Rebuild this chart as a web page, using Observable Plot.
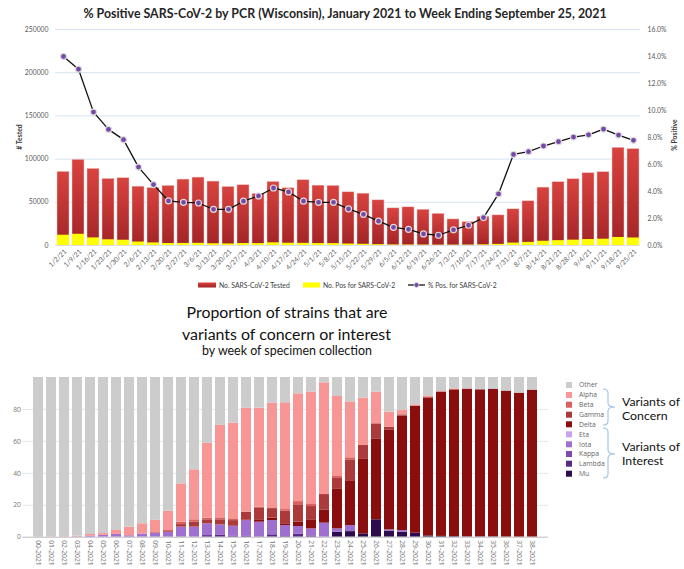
<!DOCTYPE html>
<html><head><meta charset="utf-8">
<script src="https://cdn.jsdelivr.net/npm/d3@7"></script>
<script src="https://cdn.jsdelivr.net/npm/@observablehq/plot@0.6"></script>
<style>
body{margin:0;background:#fff;}
#root{position:relative;width:684px;height:569px;overflow:hidden;background:#fff;}
#root > svg{position:absolute;left:0;margin:0;}
</style></head><body><div id="root"></div>
<script>
// ---------- Top chart data ----------
const weekEnding = ["1/2/21","1/9/21","1/16/21","1/23/21","1/30/21","2/6/21","2/13/21","2/20/21","2/27/21","3/6/21","3/13/21","3/20/21","3/27/21","4/3/21","4/10/21","4/17/21","4/24/21","5/1/21","5/8/21","5/15/21","5/22/21","5/29/21","6/5/21","6/12/21","6/19/21","6/26/21","7/3/21","7/10/21","7/17/21","7/24/21","7/31/21","8/7/21","8/14/21","8/21/21","8/28/21","9/4/21","9/11/21","9/18/21","9/25/21"];
const tested = [85200,99200,88700,77100,77900,68100,66600,69000,76300,78600,74000,67800,69800,59700,73600,66300,75600,69300,69000,61600,60000,52300,43000,44200,41400,36700,30200,27100,33300,34900,41900,51200,67000,73300,76700,83700,84900,113100,111600];
const positive = [11900,13000,8800,6600,6100,4000,3000,2300,2400,2500,2000,1800,2300,2200,3100,2600,2500,2200,2200,1700,1400,900,600,500,400,300,350,400,700,1300,2800,3600,4900,5600,6200,6900,7300,9300,8700];
const pctPositive = [14.0,13.06,9.88,8.6,7.84,5.81,4.51,3.3,3.2,3.15,2.68,2.68,3.28,3.67,4.26,3.97,3.28,3.2,3.2,2.71,2.31,1.8,1.35,1.2,0.86,0.76,1.16,1.5,2.07,3.82,6.75,6.95,7.37,7.69,8.03,8.2,8.62,8.18,7.79];
const testedTicks = [0,50000,100000,150000,200000,250000];
const pctTicks = [0,2,4,6,8,10,12,14,16];

// ---------- Bottom chart data ----------
const specimenWeeks = ["00-2021","01-2021","02-2021","03-2021","04-2021","05-2021","06-2021","07-2021","08-2021","09-2021","10-2021","11-2021","12-2021","13-2021","14-2021","15-2021","16-2021","17-2021","18-2021","19-2021","20-2021","21-2021","22-2021","23-2021","24-2021","25-2021","26-2021","27-2021","28-2021","29-2021","30-2021","31-2021","32-2021","33-2021","34-2021","35-2021","36-2021","37-2021","38-2021"];
const variantNames = ["Other","Alpha","Beta","Gamma","Delta","Eta","Iota","Kappa","Lambda","Mu"];
const variantColors = ["#cccccc","#f79694","#d9605f","#ad3a3a","#8a0e0e","#c9a2f2","#a070d0","#7d4cad","#582a86","#2d0b4e"];
const other  = [100,99.8,99.7,99.3,98.3,97.7,95.8,93.7,91.6,89.3,83.8,66.6,57.8,41.3,30.0,28.6,19.2,19.2,16.0,15.8,10.2,9.1,3.3,11.9,15.3,12.9,9.1,21.7,20.6,17.1,11.9,8.8,7.1,7.1,7.7,7.3,8.5,9.8,7.9];
const alpha  = [0,0.2,0.3,0.5,1.1,1.1,2.4,5.4,6.4,7.8,12.0,24.0,31.3,46.8,57.9,59.9,65.1,62.0,65.6,66.9,67.5,70.0,70.0,50.1,35.0,29.7,19.9,9.4,2.8,0.8,0.8,0.3,0.6,0.2,0,0,0,0,0];
const beta   = [0,0,0,0,0,0,0,0,0,0.3,0.6,1.5,1.5,1.0,1.2,1.1,0,0.4,0.5,0.9,2.0,1.7,0,1.2,1.3,0,0,0,0,0,0,0,0,0,0,0,0,0,0];
const gamma  = [0,0,0,0,0,0,0,0,0,0.3,0.5,1.6,3.1,2.5,3.2,3.4,4.9,7.5,6.0,8.0,10.9,8.3,9.6,6.5,13.5,8.3,9.4,1.7,0.8,0,0,0,0,0,0,0,0,0,0];
const delta  = [0,0,0,0,0,0,0,0,0,0,0,0,0,0,0,0.3,0.4,1.5,1.5,1.1,2.7,5.7,8.3,25.1,27.6,47.0,50.7,62.6,71.6,79.6,86.5,90.4,91.9,92.5,92.0,92.4,91.5,90.2,92.1];
const eta    = [0,0,0,0,0,0,0,0,0,0,0,0,0,0,0,0,0,0,0,0,0,0,0,0,0,0,0,0,0,0,0,0,0,0,0,0,0,0,0];
const iota   = [0,0,0,0.2,0.6,1.2,1.8,0.9,2.0,2.3,3.1,6.0,6.0,7.4,6.3,6.2,9.9,9.1,8.9,6.9,4.9,4.4,8.8,2.1,3.8,0,0,0.8,1.1,0,0,0,0,0,0,0,0,0,0];
const kappa  = [0,0,0,0,0,0,0,0,0,0,0,0.3,0.3,0,0,0,0,0,0,0,0,0,0,0,0,0,0,0,0,0,0,0,0,0,0,0,0,0,0];
const lambda = [0,0,0,0,0,0,0,0,0,0,0,0,0,1.0,1.4,0.5,0.5,0.3,1.5,0.4,1.8,0.8,0,0,0,0,0,0,0,0,0,0,0,0,0,0,0,0,0];
const mu     = [0,0,0,0,0,0,0,0,0,0,0,0,0,0,0,0,0,0,0,0,0,0,0,3.1,3.5,2.1,10.9,3.8,3.1,2.5,0.8,0.5,0.4,0.2,0.3,0.3,0,0,0];
const proportionTicks = [0,20,40,60,80];

// ---------- Build tables ----------
const PCT = 250000 / 16;
const topRows = weekEnding.map((d, i) => ({date: d, tested: tested[i], positive: positive[i], pct: pctPositive[i]}));
const seriesByName = {Other: other, Alpha: alpha, Beta: beta, Gamma: gamma, Delta: delta, Eta: eta, Iota: iota, Kappa: kappa, Lambda: lambda, Mu: mu};
const stackOrder = variantNames.slice().reverse();
const strainRows = [];
specimenWeeks.forEach((w, i) => stackOrder.forEach(v => strainRows.push({week: w, variant: v, value: seriesByName[v][i]})));

const NS = "http://www.w3.org/2000/svg";
const gradientDefs = () => {
  const d = document.createElementNS(NS, "defs");
  d.innerHTML = '<linearGradient id="redGrad" x1="0" y1="0" x2="0" y2="1"><stop offset="0" stop-color="#d8433f"/><stop offset="1" stop-color="#a22427"/></linearGradient>';
  return d;
};

const root = document.getElementById("root");

const topChart = Plot.plot({
  width: 684, height: 290,
  marginTop: 29, marginBottom: 45, marginLeft: 55, marginRight: 44,
  style: {fontFamily: "Lato, sans-serif", fontSize: "6.8px", color: "#595959", background: "transparent", overflow: "visible"},
  x: {domain: weekEnding, paddingInner: 0.22, paddingOuter: 0.11, axis: null},
  y: {domain: [0, 250000], axis: null},
  marks: [
    gradientDefs,
    Plot.gridY(testedTicks, {stroke: "#d6e2f0", strokeOpacity: 1}),
    Plot.barY(topRows, {x: "date", y: "tested", fill: "url(#redGrad)", stroke: "#ecc8c8", strokeWidth: 0.5}),
    Plot.barY(topRows, {x: "date", y: "positive", fill: "#ffff00"}),
    Plot.line(topRows, {x: "date", y: d => d.pct * PCT, stroke: "#111", strokeWidth: 1.3}),
    Plot.dot(topRows, {x: "date", y: d => d.pct * PCT, r: 3, fill: "#7447a8", stroke: "#dcdcdc", strokeWidth: 1.2}),
    Plot.axisY(testedTicks, {anchor: "left", tickSize: 0, tickPadding: 7, tickFormat: d3.format("d"), label: null}),
    Plot.axisY(pctTicks.map(p => p * PCT), {anchor: "right", tickSize: 0, tickPadding: 7, tickFormat: d => (d / PCT).toFixed(1) + "%", label: null}),
    Plot.text(weekEnding, {x: d => d, frameAnchor: "bottom", rotate: -45, textAnchor: "end", lineAnchor: "middle", dy: 5, dx: 2, fill: "#595959"})
  ]
});
topChart.style.top = "0px";
root.appendChild(topChart);

const bottomChart = Plot.plot({
  width: 684, height: 209,
  marginTop: 17, marginBottom: 32.3, marginLeft: 22.5, marginRight: 136,
  style: {fontFamily: "'Open Sans', sans-serif", fontSize: "6.8px", color: "#777", background: "transparent", overflow: "visible"},
  x: {domain: specimenWeeks, paddingInner: 0.22, paddingOuter: 0.11, axis: null},
  y: {domain: [0, 100], axis: null},
  color: {domain: variantNames, range: variantColors},
  marks: [
    Plot.gridY([20, 40, 60, 80], {stroke: "#e6e6e6", strokeOpacity: 1}),
    Plot.barY(strainRows, {x: "week", y: "value", fill: "variant"}),
    Plot.ruleY([0], {stroke: "#bdbdbd"}),
    Plot.axisY(proportionTicks, {anchor: "left", tickSize: 0, tickPadding: 2, label: null}),
    Plot.text(specimenWeeks, {x: d => d, frameAnchor: "bottom", rotate: 90, textAnchor: "start", lineAnchor: "middle", dy: 3, fill: "#6f6f6f"})
  ]
});
bottomChart.style.top = "360px";
root.appendChild(bottomChart);

// ---------- Overlay texts, legends ----------
const ov = d3.select(root).append("svg").attr("width", 684).attr("height", 569).style("top", "0px");
function fit(sel, w) {
  const len = sel.node().getComputedTextLength();
  const fs = parseFloat(sel.attr("font-size"));
  if (len > 0) sel.attr("font-size", (fs * w / len).toFixed(2));
  return sel;
}
const calibri = "Lato, 'Open Sans', sans-serif";

fit(ov.append("text").attr("x", 345).attr("y", 17.5).attr("text-anchor", "middle")
  .attr("font-family", calibri).attr("font-weight", "bold").attr("font-size", 12).attr("fill", "#262626")
  .text("% Positive SARS-CoV-2 by PCR (Wisconsin), January 2021 to Week Ending September 25, 2021"), 524);

ov.append("text").attr("transform", "translate(22,137) rotate(-90)").attr("text-anchor", "middle")
  .attr("font-family", calibri).attr("font-weight", "bold").attr("font-size", 6.8).attr("fill", "#404040").text("# Tested");
ov.append("text").attr("transform", "translate(677,135) rotate(-90)").attr("text-anchor", "middle")
  .attr("font-family", calibri).attr("font-weight", "bold").attr("font-size", 6.8).attr("fill", "#404040").text("% Positive");

// top legend
const lg = ov.append("g").attr("font-family", calibri).attr("font-size", 6.8).attr("fill", "#404040");
lg.append("rect").attr("x", 198).attr("y", 282.5).attr("width", 18).attr("height", 5).attr("fill", "url(#redGrad)");
lg.append("text").attr("x", 219).attr("y", 287.5).text("No. SARS-CoV-2 Tested");
lg.append("rect").attr("x", 303).attr("y", 282.5).attr("width", 17).attr("height", 5).attr("fill", "#ffff00");
lg.append("text").attr("x", 323).attr("y", 287.5).text("No. Pos for SARS-CoV-2");
lg.append("line").attr("x1", 408).attr("x2", 425).attr("y1", 285).attr("y2", 285).attr("stroke", "#111").attr("stroke-width", 1.3);
lg.append("circle").attr("cx", 416.5).attr("cy", 285).attr("r", 2.4).attr("fill", "#7447a8").attr("stroke", "#dcdcdc").attr("stroke-width", 0.8);
lg.append("text").attr("x", 428).attr("y", 287.5).text("% Pos. for SARS-CoV-2");

// bottom title
const t1 = ov.append("text").attr("x", 287).attr("y", 318).attr("text-anchor", "middle").attr("font-family", calibri).attr("font-size", 16).attr("fill", "#111").text("Proportion of strains that are");
fit(t1, 201);
const t2 = ov.append("text").attr("x", 286.5).attr("y", 340).attr("text-anchor", "middle").attr("font-family", calibri).attr("font-size", 16).attr("fill", "#111").text("variants of concern or interest");
fit(t2, 209);
const t3 = ov.append("text").attr("x", 287).attr("y", 355).attr("text-anchor", "middle").attr("font-family", calibri).attr("font-size", 11).attr("fill", "#111").text("by week of specimen collection");
fit(t3, 170);

// variant legend
const legendY = [385, 395, 404.7, 414.7, 424.3, 434.3, 444.3, 454, 463.7, 473.7];
const vl = ov.append("g").attr("font-family", "'Open Sans', sans-serif").attr("font-size", 6.8).attr("fill", "#666");
variantNames.forEach((v, i) => {
  vl.append("rect").attr("x", 566).attr("y", legendY[i] - 3).attr("width", 6).attr("height", 6).attr("fill", variantColors[i]);
  vl.append("text").attr("x", 579).attr("y", legendY[i]).attr("dy", "0.35em").text(v);
});

// braces
function brace(y0, ym, y1) {
  return `M603,${y0} Q608,${y0} 608,${y0 + 4} V${ym - 4} Q608,${ym} 615,${ym} Q608,${ym} 608,${ym + 4} V${y1 - 4} Q608,${y1} 603,${y1}`;
}
ov.append("path").attr("d", brace(389, 407, 425)).attr("fill", "none").attr("stroke", "#9dc3e6").attr("stroke-width", 1.1);
ov.append("path").attr("d", brace(428, 454, 478)).attr("fill", "none").attr("stroke", "#9dc3e6").attr("stroke-width", 1.1);
const ann = [["Variants of", 406], ["Concern", 420], ["Variants of", 451], ["Interest", 465]];
const annG = ov.append("g").attr("font-family", calibri).attr("fill", "#111");
const probe = annG.append("text").attr("x", 622).attr("y", ann[0][1]).attr("font-size", 12.5).text(ann[0][0]);
fit(probe, 58);
const annSize = probe.attr("font-size");
ann.slice(1).forEach(([s, y]) => {
  annG.append("text").attr("x", 622).attr("y", y).attr("font-size", annSize).text(s);
});
</script></body></html>
